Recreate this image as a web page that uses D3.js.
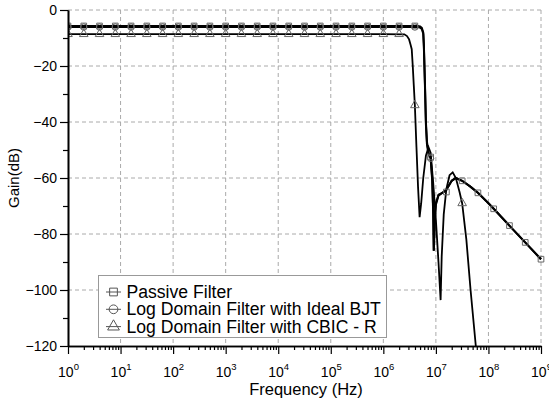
<!DOCTYPE html>
<html>
<head>
<meta charset="utf-8">
<script src="https://cdn.jsdelivr.net/npm/d3@7"></script>
<style>
  body { margin: 0; background: #fff; }
  svg { font-family: "Liberation Sans", Arial, sans-serif; }
</style>
</head>
<body>
<script>
// ---- data (frequency in Hz, gain in dB) ----
var passiveFreq = [1, 1e6, 4.5e6, 5.0e6, 5.4e6, 5.75e6, 5.9e6, 6.17e6, 6.46e6, 6.76e6, 7.24e6, 7.94e6, 8.51e6, 8.9e6, 9.12e6, 9.55e6, 1.0e7, 1.12e7, 1.26e7, 1.55e7, 2.0e7, 2.4e7, 3.16e7, 4.47e7, 6.3e7, 1e8, 1.26e8, 2.5e8, 5e8, 1e9];
var passiveGain = [-5.7, -5.7, -5.7, -5.9, -6.4, -8, -12, -25, -40, -47, -51, -52.5, -60, -72, -86, -74, -69, -66, -65.5, -64.5, -61, -60, -61, -63, -65.3, -69, -71, -77, -83, -89];

var idealFreq = [1, 1e6, 4.5e6, 5.0e6, 5.4e6, 5.75e6, 5.9e6, 6.17e6, 6.46e6, 6.76e6, 7.24e6, 7.94e6, 8.51e6, 8.9e6, 9.12e6, 9.55e6, 1.0e7, 1.12e7, 1.26e7, 1.55e7, 2.0e7, 2.4e7, 3.16e7, 4.47e7, 6.3e7, 1e8, 1.26e8, 2.5e8, 5e8, 1e9];
var idealGain = [-6.1, -6.1, -6.1, -6.3, -6.8, -8.5, -13, -26, -41, -48, -51.5, -53, -61, -73, -86, -74.5, -69.5, -66.3, -65.6, -64.5, -61, -60, -61, -63, -65.3, -69, -71, -77, -83, -89];

var cbicFreq = [1, 1e6, 2.51e6, 2.82e6, 3.09e6, 3.31e6, 3.47e6, 3.63e6, 3.8e6, 3.98e6, 4.27e6, 4.57e6, 4.9e6, 5.25e6, 5.75e6, 6.46e6, 7.24e6, 7.94e6, 8.91e6, 1.0e7, 1.12e7, 1.23e7, 1.29e7, 1.41e7, 1.58e7, 1.82e7, 2.09e7, 2.4e7, 2.82e7, 3.16e7, 3.8e7, 4.57e7, 5.75e7, 6.3e7];
var cbicGain = [-8.6, -8.6, -8.7, -9.3, -10.5, -12.5, -14, -20, -27, -34, -49, -63, -74, -69, -60, -52, -49, -51, -62, -75, -90, -103.6, -88, -73, -64, -59, -58, -60, -65, -69, -82, -100, -120, -126];

// markers every 0.3 decade, as drawn in the reference
var passiveMarkF = d3.range(0, 31).map(function (k) { return Math.pow(10, k * 0.3); });
var passiveMarkG = [-5.7, -5.7, -5.7, -5.7, -5.7, -5.7, -5.7, -5.7, -5.7, -5.7, -5.7, -5.7, -5.7, -5.7, -5.7, -5.7, -5.7, -5.7, -5.7, -5.7, -5.7, -5.7, -5.7, -52.5, -65, -61, -65.3, -71, -77, -83, -89];
var idealMarkF = d3.range(0, 24).map(function (k) { return Math.pow(10, k * 0.3); });
var idealMarkG = [-6.1, -6.1, -6.1, -6.1, -6.1, -6.1, -6.1, -6.1, -6.1, -6.1, -6.1, -6.1, -6.1, -6.1, -6.1, -6.1, -6.1, -6.1, -6.1, -6.1, -6.1, -6.1, -6.1, -53];
var cbicMarkF = d3.range(0, 23).map(function (k) { return Math.pow(10, k * 0.3); }).concat([Math.pow(10, 7.5)]);
var cbicMarkG = [-8.6, -8.6, -8.6, -8.6, -8.6, -8.6, -8.6, -8.6, -8.6, -8.6, -8.6, -8.6, -8.6, -8.6, -8.6, -8.6, -8.6, -8.6, -8.6, -8.6, -8.6, -8.6, -34, -69];

var seriesNames = ["Passive Filter", "Log Domain Filter with Ideal BJT", "Log Domain Filter with CBIC - R"];
var yTicks = [0, -20, -40, -60, -80, -100, -120];
var xExponents = [0, 1, 2, 3, 4, 5, 6, 7, 8, 9];

var W = 549, H = 399;
var pLeft = 68, pRight = 541, pTop = 10, pBottom = 346;
var fontFam = "Liberation Sans, Arial, sans-serif";

var svg = d3.select("body").append("svg")
    .attr("width", W)
    .attr("height", H);

var x = d3.scaleLog().domain([1, 1e9]).range([pLeft, pRight]);
var y = d3.scaleLinear().domain([-120, 0]).range([pBottom, pTop]);

// grid
svg.append("g").selectAll("line")
    .data(xExponents.slice(1))
    .enter().append("line")
    .attr("x1", function (d) { return x(Math.pow(10, d)); })
    .attr("x2", function (d) { return x(Math.pow(10, d)); })
    .attr("y1", pTop).attr("y2", pBottom)
    .attr("stroke", "#aaa").attr("stroke-dasharray", "4,3");
svg.append("g").selectAll("line")
    .data(yTicks.slice(0, -1))
    .enter().append("line")
    .attr("y1", function (d) { return y(d); })
    .attr("y2", function (d) { return y(d); })
    .attr("x1", pLeft).attr("x2", pRight)
    .attr("stroke", "#aaa").attr("stroke-dasharray", "4,3");

// curves
svg.append("clipPath").attr("id", "clip")
    .append("rect").attr("x", pLeft).attr("y", pTop - 2).attr("width", pRight - pLeft + 4).attr("height", pBottom - pTop + 2);

var line = d3.line()
    .x(function (d) { return x(d[0]); })
    .y(function (d) { return y(d[1]); });

var plot = svg.append("g").attr("clip-path", "url(#clip)");
var series = [
    {f: passiveFreq, g: passiveGain, mf: passiveMarkF, mg: passiveMarkG, w: 2, sym: d3.symbolSquare},
    {f: idealFreq, g: idealGain, mf: idealMarkF, mg: idealMarkG, w: 2, sym: d3.symbolCircle},
    {f: cbicFreq, g: cbicGain, mf: cbicMarkF, mg: cbicMarkG, w: 1.8, sym: d3.symbolTriangle}
];
series.forEach(function (s) {
    plot.append("path")
        .datum(d3.zip(s.f, s.g))
        .attr("d", line)
        .attr("fill", "none")
        .attr("stroke", "#000")
        .attr("stroke-width", s.w);
});
series.forEach(function (s) {
    plot.append("g").selectAll("path")
        .data(d3.zip(s.mf, s.mg))
        .enter().append("path")
        .attr("transform", function (d) { return "translate(" + x(d[0]) + "," + y(d[1]) + ")"; })
        .attr("d", d3.symbol().type(s.sym).size(32))
        .attr("fill", "none")
        .attr("stroke", "#666")
        .attr("stroke-width", 1);
});

// axes
var yMinor = d3.range(-110, 1, 20);
svg.append("g")
    .attr("transform", "translate(" + pLeft + ",0)")
    .call(d3.axisLeft(y).tickValues(yMinor).tickSize(5).tickSizeOuter(0).tickFormat(""));
var yAxis = svg.append("g")
    .attr("transform", "translate(" + pLeft + ",0)")
    .attr("font-family", fontFam)
    .call(d3.axisLeft(y).tickValues(yTicks).tickSize(8).tickSizeOuter(0).tickPadding(3));
yAxis.selectAll("text").style("font-size", "14px").attr("fill", "#000");

var xMinor = [];
xExponents.slice(0, -1).forEach(function (e) {
    for (var m = 2; m <= 9; m++) xMinor.push(m * Math.pow(10, e));
});
svg.append("g")
    .attr("transform", "translate(0," + pBottom + ")")
    .call(d3.axisBottom(x).tickValues(xMinor).tickSize(4).tickSizeOuter(0).tickFormat(""));
var xAxis = svg.append("g")
    .attr("transform", "translate(0," + pBottom + ")")
    .attr("font-family", fontFam)
    .call(d3.axisBottom(x).tickValues(xExponents.map(function (e) { return Math.pow(10, e); }))
        .tickSize(8).tickSizeOuter(0).tickFormat(""));
xAxis.selectAll(".tick").append("text")
    .attr("y", 31)
    .attr("fill", "#000")
    .attr("text-anchor", "middle")
    .style("font-size", "14px")
    .each(function (d) {
        var t = d3.select(this);
        t.append("tspan").text("10");
        t.append("tspan").attr("dy", -7).style("font-size", "9.5px").text(Math.round(Math.log10(d)));
    });

svg.selectAll(".domain").attr("stroke", "#000").attr("stroke-width", 1.6);
svg.selectAll(".tick line").attr("stroke", "#000").attr("stroke-width", 1.2);

svg.append("text")
    .attr("x", 306).attr("y", 395)
    .attr("text-anchor", "middle")
    .style("font-size", "16.5px")
    .text("Frequency (Hz)");
svg.append("text")
    .attr("transform", "translate(19,178) rotate(-90)")
    .attr("text-anchor", "middle")
    .style("font-size", "15px")
    .text("Gain(dB)");

// legend
var lg = svg.append("g");
lg.append("rect")
    .attr("x", 98.5).attr("y", 275.5).attr("width", 288).attr("height", 62)
    .attr("fill", "#fff").attr("stroke", "#999");
seriesNames.forEach(function (name, i) {
    var cy = 292 + i * 17.3;
    lg.append("line").attr("x1", 106).attr("x2", 121).attr("y1", cy).attr("y2", cy)
        .attr("stroke", "#555").attr("stroke-width", 1);
    lg.append("path")
        .attr("transform", "translate(113.5," + cy + ")")
        .attr("d", d3.symbol().type(series[i].sym).size(60))
        .attr("fill", "none").attr("stroke", "#555");
    lg.append("text")
        .attr("x", 126.5).attr("y", cy + 6)
        .style("font-size", "17.6px")
        .text(name);
});
</script>
</body>
</html>
